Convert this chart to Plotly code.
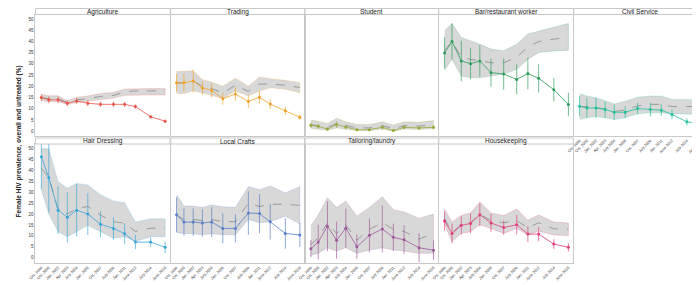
import plotly.graph_objects as go

W, H = 700, 285

visit_dates = ["1999-10-15", "2000-10-15", "2002-01-15", "2003-04-15", "2004-07-15", "2006-01-15",
               "2007-10-01", "2009-07-01", "2011-01-01", "2012-06-15", "2014-07-01", "2016-06-15"]
tick_labels = ["Oct. 1999", "Oct. 2000", "Jan. 2002", "Apr. 2003", "July 2004", "Jan. 2006",
               "Oct. 2007", "July 2009", "Jan. 2011", "June 2012", "July 2014", "June 2016"]

categories = ["Agriculture", "Trading", "Student", "Bar/restaurant worker", "Civil Service",
              "Hair Dressing", "Local Crafts", "Tailoring/laundry", "Housekeeping"]

colors = ["#e9564b", "#f2a22a", "#9aa83a", "#2e9e5b", "#22bf9c",
          "#3aa6d8", "#5a7ec8", "#a0589a", "#e0407e"]

# untreated prevalence (points + error bars)
untreated = {
    "Agriculture": [15, 14, 14, 12.5, 13.5, 12.5, 12, 12, 12, 11, 6.5, 4.5],
    "Trading": [21.6, 21.6, 22.4, 19.3, 18.2, 14.5, 16.6, 13.3, 15.1, 12.1, 9.1, 6.3],
    "Student": [2.7, 2.2, 1.0, 3.0, 1.9, 0.7, 0.7, 1.8, 0.3, 1.8, 1.5, 1.8],
    "Bar/restaurant worker": [34.9, 40, 31.3, 30.1, 31.3, 26.1, 25.5, 23.1, 25.7, 23.6, 18.5, 11.9],
    "Civil Service": [11.2, 10.4, 10.4, 9.7, 8.5, 8.5, 10.1, 9.7, 9.4, 7.5, 4.2, 3.3],
    "Hair Dressing": [46.3, 36.8, 21.8, 18.5, 21.8, 20.0, 15.3, 13.4, 11.0, 7.1, 7.1, 4.7],
    "Local Crafts": [19.7, 16.3, 16.3, 15.9, 16.3, 13.4, 13.4, 20.5, 20.2, 16.5, 11.1, 10.4],
    "Tailoring/laundry": [4.1, 7.1, 14.4, 8.0, 13.5, 5.0, 10.2, 13.1, 9.3, 8.2, 4.5, 3.4],
    "Housekeeping": [16.8, 11.1, 14.8, 15.7, 19.7, 15.9, 13.8, 15.1, 10.8, 10.8, 6.2, 4.7],
}
untreated_err = {
    "Agriculture": [1.5, 1.5, 1.5, 1.3, 1.3, 1.3, 1.2, 1.2, 1.2, 1.0, 0.9, 0.8],
    "Trading": [4, 4, 5, 3, 3, 2.7, 3, 2.8, 2.8, 2.2, 1.8, 1.3],
    "Student": [1.2, 1, 0.8, 1.5, 1, 0.6, 0.6, 1, 0.5, 0.9, 0.8, 1],
    "Bar/restaurant worker": [7, 8, 9, 7, 7, 6.3, 7, 6.7, 7, 6.3, 5.2, 5.2],
    "Civil Service": [4.5, 4.5, 4.5, 3.7, 3.4, 2.6, 2.6, 3, 2.6, 2.2, 1.6, 1.1],
    "Hair Dressing": [15, 16, 11, 11.5, 12, 9.6, 6, 5.2, 4.8, 3.3, 2.2, 2.7],
    "Local Crafts": [8, 6.3, 6.3, 6.3, 6.9, 6.9, 6.5, 10, 9, 8.2, 7, 5.5],
    "Tailoring/laundry": [4, 8, 11.5, 8.5, 9, 5.6, 7.8, 10.8, 6.3, 6.7, 6.7, 4.5],
    "Housekeeping": [4.5, 4.5, 4.2, 4.6, 5.3, 4.2, 3.3, 4.5, 3.7, 3.3, 2.2, 1.9],
}
# overall prevalence (dashed line) and its 95% band
overall = {
    "Agriculture": [15, 14.5, 14.5, 12.8, 14, 14.5, 15.5, 16, 17.5, 18, 18, 18],
    "Trading": [21.5, 21.5, 22.5, 20, 19, 17, 20.5, 17.8, 21, 21, 20.5, 19.5],
    "Student": [3, 2.5, 1.8, 3.5, 2.5, 1.5, 1.5, 2.5, 1.2, 2.5, 2.3, 3],
    "Bar/restaurant worker": [36, 40, 33, 32, 31.5, 30.5, 30.5, 33, 37.5, 40, 41, 42],
    "Civil Service": [11, 11, 10.5, 10, 8.8, 9.5, 11.3, 12, 12, 11, 11, 11],
    "Hair Dressing": [41, 37, 22, 20, 22.5, 23.5, 19.5, 16.5, 15.8, 12, 13.5, 13.5],
    "Local Crafts": [19.5, 17.5, 17.5, 17, 17.5, 16.5, 16.5, 25, 23.5, 24.5, 24.5, 24],
    "Tailoring/laundry": [6, 9, 16, 11, 15, 8, 13, 16, 13, 12, 8.5, 11],
    "Housekeeping": [18, 11.5, 15.2, 16, 20, 17, 16, 17, 13.7, 16, 13.2, 13],
}
overall_lo = {
    "Agriculture": [13.7, 13.2, 13.2, 12, 12.8, 13.3, 14.2, 14.8, 16, 16.2, 16.2, 16.2],
    "Trading": [16.7, 16.7, 18, 17, 16, 14.5, 17.9, 15.7, 17.9, 19.4, 18.7, 17.2],
    "Student": [1.2, 1, 0.5, 1.5, 1, 0.3, 0.3, 1, 0, 1, 0.8, 1.2],
    "Bar/restaurant worker": [27.2, 32.1, 24.6, 23.9, 23.9, 24.6, 25.4, 27.6, 32.1, 35.1, 35.8, 36.1],
    "Civil Service": [5.2, 6, 6.7, 6, 5.2, 6, 7.8, 8.2, 8.2, 7.8, 7.5, 7.5],
    "Hair Dressing": [31.2, 20, 11.9, 9.6, 11.9, 14.8, 11.9, 8.9, 9.6, 7.4, 9.6, 9.6],
    "Local Crafts": [11.5, 11, 11, 10.5, 11, 10.5, 10.5, 17.5, 16, 16.5, 19, 15.5],
    "Tailoring/laundry": [1, 2, 4.5, 3, 4.5, 2, 3.5, 4.5, 3.5, 3, 2, 2],
    "Housekeeping": [15.1, 7.4, 11.1, 11.9, 15.1, 13.4, 11.1, 13.4, 10.4, 12.2, 10.4, 10.1],
}
overall_hi = {
    "Agriculture": [16.5, 15.8, 15.8, 13.6, 15.2, 15.7, 16.8, 17.3, 18.8, 19, 19, 19],
    "Trading": [26.6, 26.6, 26.9, 23.1, 22, 20.1, 23.6, 20.1, 24.2, 23.4, 22.7, 21.6],
    "Student": [5, 4.5, 3.5, 5.8, 4.2, 3, 3, 4.2, 2.8, 4.2, 4, 4.8],
    "Bar/restaurant worker": [44.8, 48, 41.8, 40.3, 38.8, 36.6, 35.8, 38.8, 43.3, 44.5, 46.3, 48],
    "Civil Service": [16.7, 15.7, 14.9, 13.7, 12.2, 13.4, 15.2, 15.7, 15.7, 14.2, 14.2, 14.2],
    "Hair Dressing": [50.1, 50, 34.9, 31.9, 34.1, 33.4, 28.9, 26, 25.2, 16.3, 17.8, 17.8],
    "Local Crafts": [28.9, 23.7, 23.7, 23, 24.2, 23.3, 23, 32.6, 31.2, 32.9, 29.7, 32.6],
    "Tailoring/laundry": [14.5, 19.5, 27.5, 23, 26, 19, 23, 28, 22, 21, 18, 20],
    "Housekeeping": [22.3, 16.3, 19.3, 20.5, 25.5, 20.5, 19.3, 22.3, 17.1, 19.6, 16.3, 15.9],
}

y_ticks = [0, 5, 10, 15, 20, 25, 30, 35, 40, 45, 50]

# ---------------- layout geometry (pixels) ----------------
cols = [(20.7, 156.7), (157.3, 292.7), (293.0, 427.7), (428.0, 564.0), (564.5, 698.0)]
rows = [dict(plot=(6.5, 128.0), strip=(0.5, 6.5), yr=[-2.1, 52.0]),
        dict(plot=(136.0, 255.0), strip=(130.0, 136.0), yr=[-2.5, 52.2])]

FONT = "Arial, Liberation Sans, sans-serif"


def px_x(p):
    return p / W


def px_y(p):
    return 1 - p / H


def rgba(hexc, a):
    h = hexc.lstrip("#")
    return "rgba(%d,%d,%d,%s)" % (int(h[0:2], 16), int(h[2:4], 16), int(h[4:6], 16), a)


fig = go.Figure()
layout = {}
shapes = []
annotations = []

for i, cat in enumerate(categories):
    r, c = (0, i) if i < 5 else (1, i - 5)
    row = rows[r]
    n = i + 1
    xa = "xaxis" if n == 1 else "xaxis%d" % n
    ya = "yaxis" if n == 1 else "yaxis%d" % n
    xr = "x" if n == 1 else "x%d" % n
    yr = "y" if n == 1 else "y%d" % n
    col = colors[i]

    show_x = (r == 1) or (c == 4)
    layout[xa] = dict(
        domain=[px_x(cols[c][0]), px_x(cols[c][1])], anchor=yr, type="date",
        range=["1999-01-01", "2017-02-15"],
        tickmode="array", tickvals=visit_dates, ticktext=tick_labels,
        showticklabels=show_x, tickangle=-45, ticklabeloverflow="allow",
        tickfont=dict(size=3.8, color="#333333", family=FONT),
        showgrid=False, zeroline=False, showline=True, mirror=True,
        linecolor="#c8c8c8", linewidth=1, ticks="",
    )
    layout[ya] = dict(
        domain=[px_y(row["plot"][1]), px_y(row["plot"][0])], anchor=xr,
        range=row["yr"], tickmode="array", tickvals=y_ticks,
        showticklabels=(c == 0),
        tickfont=dict(size=4.5, color="#333333", family=FONT),
        showgrid=False, zeroline=False, showline=True, mirror=True,
        linecolor="#c8c8c8", linewidth=1, ticks="",
    )

    # band
    fig.add_trace(go.Scatter(
        x=visit_dates + visit_dates[::-1],
        y=overall_hi[cat] + overall_lo[cat][::-1],
        fill="toself", fillcolor="rgba(140,140,140,0.34)",
        line=dict(color=rgba(col, 0.35), width=0.6),
        mode="lines", hoverinfo="skip", showlegend=False, xaxis=xr, yaxis=yr,
    ))
    # overall dashed line
    fig.add_trace(go.Scatter(
        x=visit_dates, y=overall[cat], mode="lines",
        line=dict(color="#8a8a8a", width=0.8, dash="dash"),
        showlegend=False, xaxis=xr, yaxis=yr,
    ))
    # untreated
    fig.add_trace(go.Scatter(
        x=visit_dates, y=untreated[cat], mode="lines+markers",
        line=dict(color=col, width=0.8),
        marker=dict(color=col, size=3),
        error_y=dict(type="data", array=untreated_err[cat], color=rgba(col, 0.85),
                     thickness=0.8, width=0),
        showlegend=False, xaxis=xr, yaxis=yr,
    ))

    # strip
    s0, s1 = row["strip"]
    shapes.append(dict(type="rect", xref="paper", yref="paper",
                       x0=px_x(cols[c][0]), x1=px_x(cols[c][1]),
                       y0=px_y(s1), y1=px_y(s0),
                       line=dict(color="#c8c8c8", width=1), fillcolor="white"))
    annotations.append(dict(text=cat, xref="paper", yref="paper",
                            x=px_x((cols[c][0] + cols[c][1]) / 2), y=px_y((s0 + s1) / 2),
                            xanchor="center", yanchor="middle", showarrow=False,
                            font=dict(size=6.5, color="#222", family=FONT)))

annotations.append(dict(text="<b>Female HIV prevalence, overall and untreated (%)</b>",
                        xref="paper", yref="paper", x=px_x(4.5), y=px_y(133), textangle=-90,
                        xanchor="center", yanchor="middle", showarrow=False,
                        font=dict(size=6.5, color="#222", family=FONT)))
annotations.append(dict(text="<b>Calendar midpoint of study visit</b>",
                        xref="paper", yref="paper", x=px_x(349), y=px_y(279.8),
                        xanchor="center", yanchor="middle", showarrow=False, borderpad=0,
                        font=dict(size=6.3, color="#222", family=FONT)))

fig.update_layout(
    width=W, height=H, margin=dict(l=0, r=0, t=0, b=0),
    paper_bgcolor="white", plot_bgcolor="white",
    shapes=shapes, annotations=annotations, showlegend=False,
    **layout,
)

fig.write_html("out.html")
